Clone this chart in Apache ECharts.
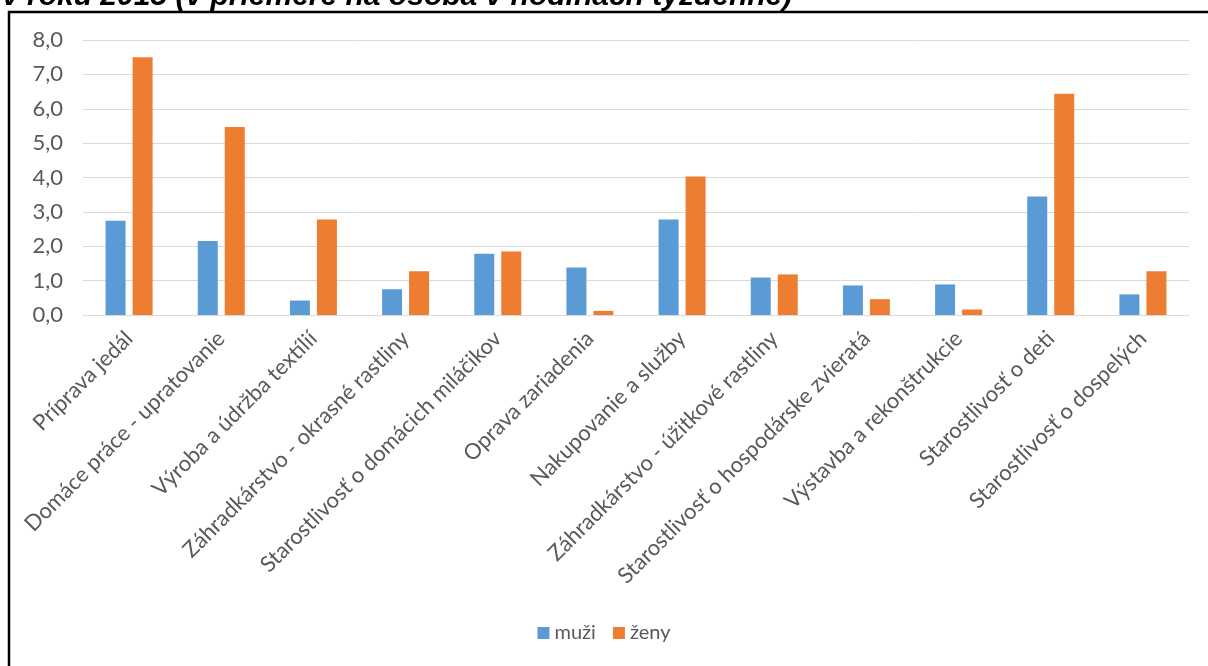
<!DOCTYPE html>
<html>
<head>
<meta charset="utf-8">
<script src="https://cdn.jsdelivr.net/npm/echarts@6/dist/echarts.min.js"></script>
<style>html,body{margin:0;padding:0;background:#fff;}#c{width:1208px;height:666px;}</style>
</head>
<body>
<div id="c"></div>
<script>
const categories = ["Príprava jedál","Domáce práce - upratovanie","Výroba a údržba textílií","Záhradkárstvo - okrasné rastliny","Starostlivosť o domácich miláčikov","Oprava zariadenia","Nakupovanie a služby","Záhradkárstvo - úžitkové rastliny","Starostlivosť o hospodárske zvieratá","Výstavba a rekonštrukcie","Starostlivosť o deti","Starostlivosť o dospelých"];
const muzi = [2.74, 2.15, 0.42, 0.75, 1.78, 1.38, 2.78, 1.09, 0.86, 0.89, 3.45, 0.60];
const zeny = [7.50, 5.47, 2.78, 1.27, 1.85, 0.12, 4.03, 1.18, 0.46, 0.16, 6.44, 1.27];
const seriesNames = ["muži","ženy"];
const titleText = "v roku 2015 (v priemere na osoba v hodinách týždenne)";

const chart = echarts.init(document.getElementById('c'));
chart.setOption({
  animation: false,
  title: {
    text: titleText,
    left: -3, top: -23,
    textStyle: {fontFamily: "Liberation Sans", fontWeight: "bold", fontStyle: "italic", fontSize: 30, color: "#000"}
  },
  graphic: [{
    type: 'rect', shape: {x: 9, y: 12, width: 1240, height: 700},
    style: {fill: '#fff', stroke: '#000', lineWidth: 2.5}, z: -1
  }],
  legend: {
    bottom: 18, left: 'center',
    itemWidth: 12, itemHeight: 12, itemGap: 17,
    icon: 'rect',
    textStyle: {fontFamily: "Lato", fontSize: 20, color: "#595959"},
    data: seriesNames
  },
  grid: {left: 83, right: 19, top: 40, bottom: 351},
  xAxis: {
    type: 'category', data: categories,
    axisLine: {lineStyle: {color: '#d9d9d9', width: 1}},
    axisTick: {show: false},
    axisLabel: {rotate: 45, interval: 0, fontFamily: "Lato", fontSize: 22, color: "#595959", margin: 20}
  },
  yAxis: {
    type: 'value', min: 0, max: 8, interval: 1,
    axisLine: {show: false}, axisTick: {show: false},
    splitLine: {lineStyle: {color: '#d9d9d9', width: 1}},
    axisLabel: {fontFamily: "Lato", fontSize: 22, color: "#595959", margin: 20,
      formatter: v => v.toFixed(1).replace('.', ',')}
  },
  series: [
    {name: seriesNames[0], type: 'bar', data: muzi, barWidth: 20, barGap: '35%',
     itemStyle: {color: '#5B9BD5'}},
    {name: seriesNames[1], type: 'bar', data: zeny, barWidth: 20,
     itemStyle: {color: '#ED7D31'}}
  ]
});
</script>
</body>
</html>
